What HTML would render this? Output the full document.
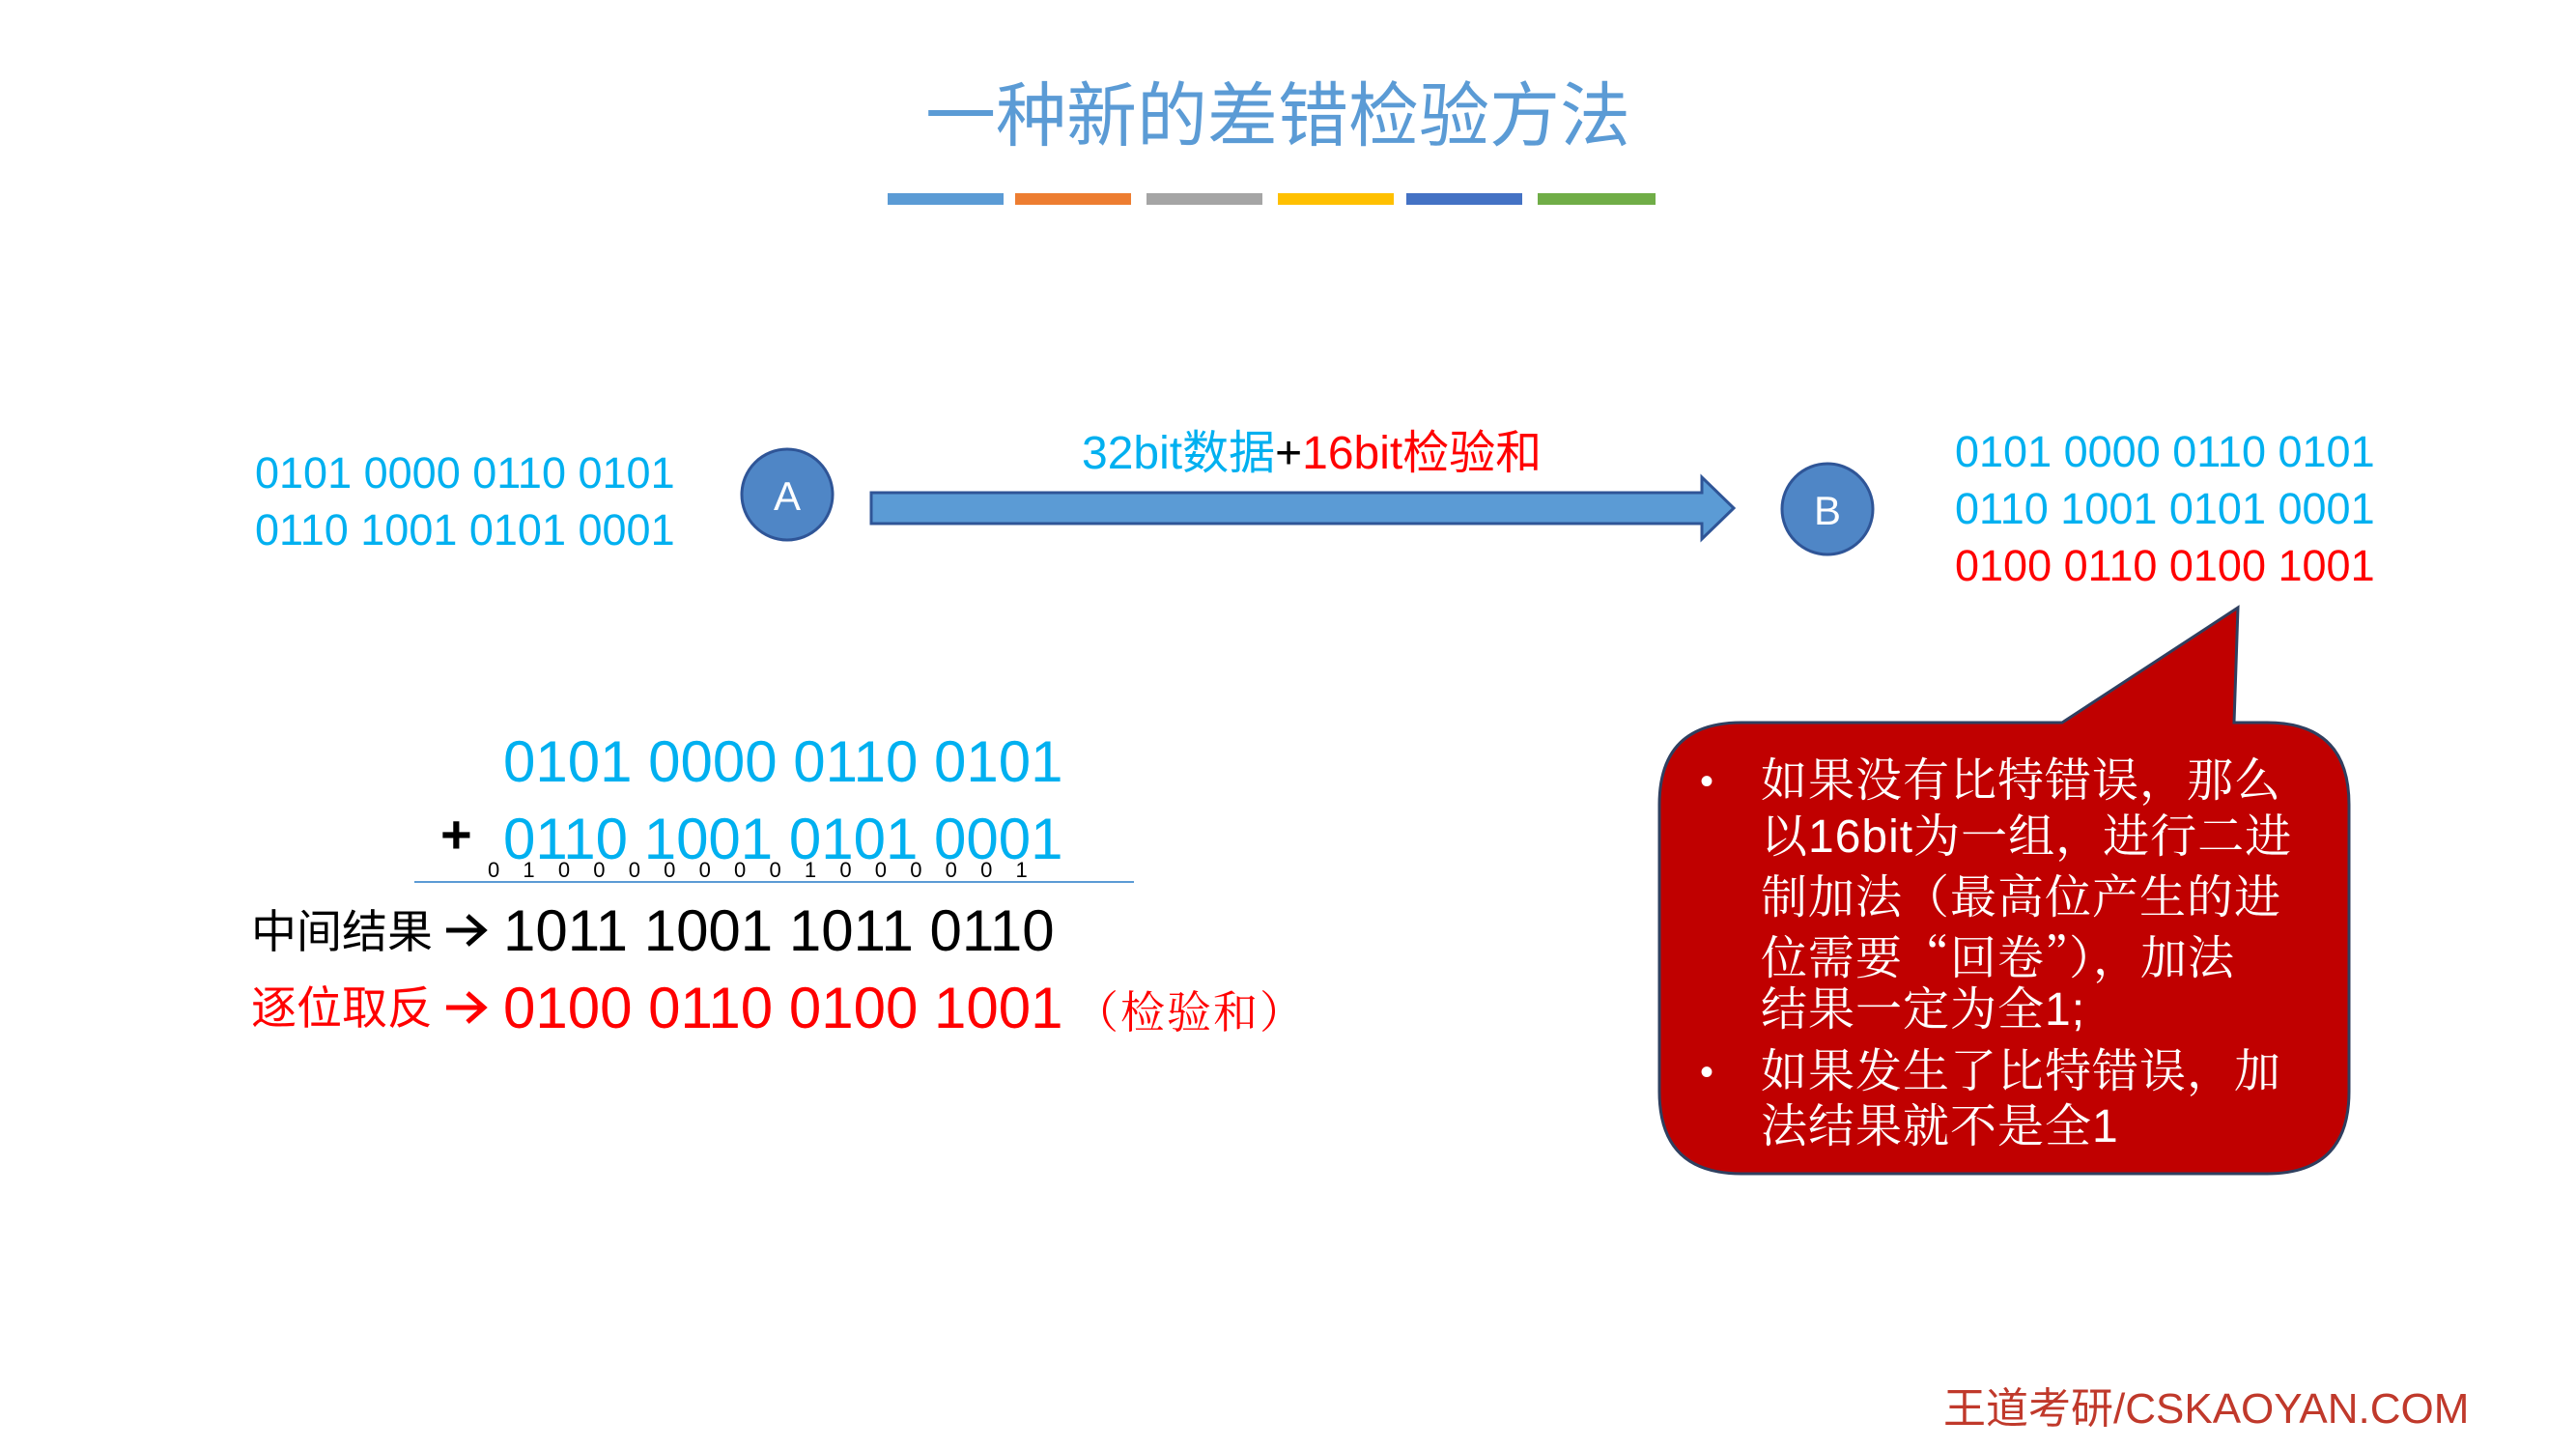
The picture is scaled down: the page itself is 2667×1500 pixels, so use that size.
<!DOCTYPE html>
<html><head><meta charset="utf-8"><style>
body{margin:0;width:2667px;height:1500px;background:#fff;position:relative;overflow:hidden;font-family:"Liberation Sans","Noto Sans CJK SC",sans-serif}
.t{position:absolute;white-space:nowrap;line-height:1}
.b{color:#00b0f0}.r{color:#ff0000}
.bar{position:absolute;top:200px;height:12px}
.cl{position:absolute;left:1823px;color:#fff;font-family:"Liberation Sans","Noto Serif CJK SC",serif;font-size:48px;white-space:nowrap;line-height:1;letter-spacing:1px}
.bul{position:absolute;left:1760px;color:#fff;font-size:40px;line-height:1}
</style></head><body>
<div class="t" style="left:0;width:2646px;text-align:center;top:84px;font-size:73px;color:#5b9bd5">一种新的差错检验方法</div>
<div class="bar" style="left:919px;width:120px;background:#5b9bd5"></div>
<div class="bar" style="left:1051px;width:120px;background:#ed7d31"></div>
<div class="bar" style="left:1187px;width:120px;background:#a5a5a5"></div>
<div class="bar" style="left:1323px;width:120px;background:#ffc000"></div>
<div class="bar" style="left:1456px;width:120px;background:#4472c4"></div>
<div class="bar" style="left:1592px;width:122px;background:#70ad47"></div>

<div class="t b" style="left:264px;top:467px;font-size:45px">0101 0000 0110 0101</div>
<div class="t b" style="left:264px;top:526px;font-size:45px">0110 1001 0101 0001</div>

<svg width="2667" height="1500" style="position:absolute;left:0;top:0">
<circle cx="815" cy="512" r="47" fill="#4f86c6" stroke="#2f5597" stroke-width="3"/>
<text x="815" y="528" font-size="42" fill="#fff" text-anchor="middle" font-family="Liberation Sans">A</text>
<polygon points="902,510 1762,510 1762,494 1795,526 1762,558 1762,542 902,542" fill="#5b9bd5" stroke="#2f5597" stroke-width="3"/>
<circle cx="1892" cy="527" r="47" fill="#4f86c6" stroke="#2f5597" stroke-width="3"/>
<text x="1892" y="543" font-size="42" fill="#fff" text-anchor="middle" font-family="Liberation Sans">B</text>
<path d="M1803,748 L2135,748 L2317,629 L2313,748 L2347,748 Q2432,748 2432,833 L2432,1130 Q2432,1215 2347,1215 L1803,1215 Q1718,1215 1718,1130 L1718,833 Q1718,748 1803,748 Z" fill="#c00000" stroke="#2f3f5f" stroke-width="3"/>
<line x1="429" y1="913" x2="1174" y2="913" stroke="#5b9bd5" stroke-width="2"/>
<g stroke="#000" stroke-width="5" fill="none"><line x1="462" y1="963" x2="500" y2="963"/><polyline points="484,948 501,963 484,978"/></g>
<g stroke="#ff0000" stroke-width="5" fill="none"><line x1="462" y1="1043" x2="500" y2="1043"/><polyline points="484,1028 501,1043 484,1058"/></g>
</svg>

<div class="t" style="left:1120px;top:446px;font-size:48px"><span class="b">32bit数据</span>+<span class="r">16bit检验和</span></div>

<div class="t b" style="left:2024px;top:445px;font-size:45px">0101 0000 0110 0101</div>
<div class="t b" style="left:2024px;top:504px;font-size:45px">0110 1001 0101 0001</div>
<div class="t r" style="left:2024px;top:563px;font-size:45px">0100 0110 0100 1001</div>

<div class="bul" style="top:789px">•</div>
<div class="cl" style="top:785px">如果没有比特错误，那么</div>
<div class="cl" style="top:843px">以16bit为一组，进行二进</div>
<div class="cl" style="top:906px">制加法（最高位产生的进</div>
<div class="cl" style="top:964px;font-family:'Noto Serif CJK SC',serif">位需要“回卷”），加法</div>
<div class="cl" style="top:1022px">结果一定为全1;</div>
<div class="bul" style="top:1090px">•</div>
<div class="cl" style="top:1086px">如果发生了比特错误，加</div>
<div class="cl" style="top:1143px">法结果就不是全1</div>

<div class="t b" style="left:521px;top:759px;font-size:60px">0101 0000 0110 0101</div>
<div class="t" style="left:456px;top:836px;font-size:56px;font-weight:bold">+</div>
<div class="t b" style="left:521px;top:839px;font-size:60px">0110 1001 0101 0001</div>
<div class="t" style="left:505px;top:890px;font-size:22px;letter-spacing:24.2px">0100000001000001</div>
<div class="t" style="left:260px;top:941px;font-size:47px">中间结果</div>
<div class="t" style="left:521px;top:934px;font-size:60px">1011 1001 1011 0110</div>
<div class="t r" style="left:260px;top:1020px;font-size:47px">逐位取反</div>
<div class="t r" style="left:521px;top:1014px;font-size:60px">0100 0110 0100 1001</div>
<div class="t r" style="left:1112px;top:1022px;font-size:46px;letter-spacing:2px;font-family:'Noto Serif CJK SC',serif">（检验和）</div>

<div class="t" style="left:2012px;top:1437px;font-size:44px;color:#c0392b">王道考研/CSKAOYAN.COM</div>
</body></html>
